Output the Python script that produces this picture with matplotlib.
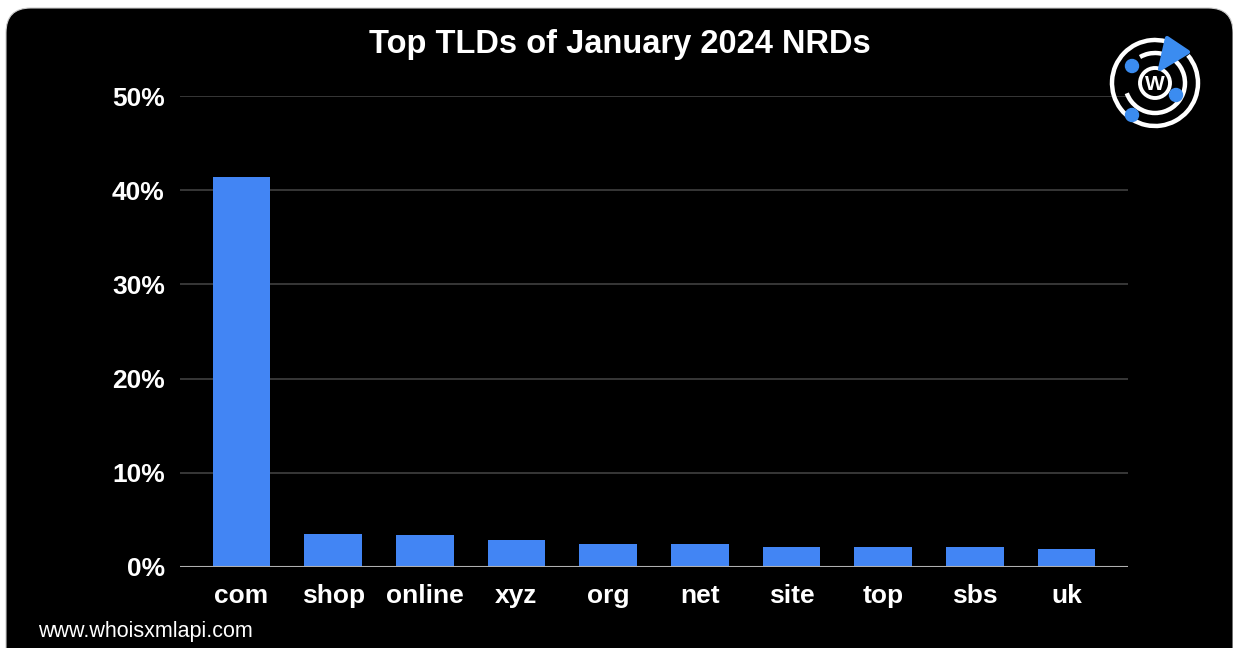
import matplotlib
matplotlib.use("Agg")
import matplotlib.pyplot as plt
from matplotlib.patches import FancyBboxPatch, Arc, Circle, Polygon
from matplotlib.ticker import FuncFormatter

tlds = ["com", "shop", "online", "xyz", "org", "net", "site", "top", "sbs", "uk"]
share = [41.4, 3.5, 3.4, 2.85, 2.45, 2.45, 2.1, 2.1, 2.1, 1.9]

W, H = 1233, 648
fig = plt.figure(figsize=(W / 100, H / 100), dpi=100, facecolor="white")

# black rounded card behind everything (top corners rounded, bottom runs off the edge)
card = FancyBboxPatch((6 / W, -0.2), (1233 - 6) / W, 1 - 8 / H + 0.2,
                      boxstyle="round,pad=0,rounding_size=0.02",
                      transform=fig.transFigure, facecolor="black", edgecolor="#cccccc",
                      linewidth=0.8, zorder=-10, mutation_aspect=W / H)
fig.patches.append(card)

ax = fig.add_axes([180 / W, 1 - 567 / H, (1128 - 180) / W, (567 - 96) / H])
ax.set_facecolor("black")
ax.bar(range(len(tlds)), share, width=0.63, color="#4285f4", zorder=3)
ax.set_xlim(-0.67, len(tlds) - 1 + 0.67)
ax.set_ylim(0, 50)
ax.set_yticks([0, 10, 20, 30, 40, 50])
ax.yaxis.set_major_formatter(FuncFormatter(lambda v, _: f"{v:.0f}%"))
ax.set_xticks(range(len(tlds)))
ax.set_xticklabels(tlds)
ax.grid(axis="y", color="#404040", linewidth=1.2, zorder=0)
ax.axhline(0, color="#b0b0b0", linewidth=1.5, zorder=4)
for s in ax.spines.values():
    s.set_visible(False)
ax.tick_params(length=0, colors="white", labelsize=19)
ax.tick_params(axis="y", pad=11)
ax.tick_params(axis="x", pad=12.5)
for lab in ax.get_xticklabels() + ax.get_yticklabels():
    lab.set_fontweight("bold")
    lab.set_color("white")
    lab.set_family("Liberation Sans")

fig.text(620 / W, 1 - 44 / H, "Top TLDs of January 2024 NRDs", color="white",
         fontsize=23.5, fontweight="bold", ha="center", va="center", family="Liberation Sans")
fig.text(38 / W, 1 - 631 / H, "www.whoisxmlapi.com", color="white", fontsize=15.5,
         ha="left", va="center", family="Liberation Sans")

# logo
lx = fig.add_axes([1105 / W, 1 - 133 / H, 100 / W, 100 / H])
lx.set_xlim(-50, 50)
lx.set_ylim(-50, 50)
lx.set_aspect("equal")
lx.axis("off")
lx.add_patch(Arc((0, 0), 86, 86, theta1=75, theta2=40 + 360, color="white", lw=3.2))
lx.add_patch(Arc((0, 0), 60, 60, theta1=-160, theta2=120, color="white", lw=3.2))
lx.add_patch(Circle((0, 0), 15, facecolor="black", edgecolor="white", lw=2.8))
lx.text(0, -1, "W", color="white", fontsize=15, fontweight="bold", ha="center", va="center",
        family="Liberation Sans")
for cx, cy in [(-23, 17), (21, -12), (-23, -32)]:
    lx.add_patch(Circle((cx, cy), 6.5, color="#3b8cf0", zorder=5))
lx.add_patch(Polygon([(5, 14), (12, 45), (33, 31)], closed=True, color="#3b8cf0",
                     joinstyle="round", lw=3, zorder=5))

fig.savefig("out.png", dpi=100, facecolor="white")
